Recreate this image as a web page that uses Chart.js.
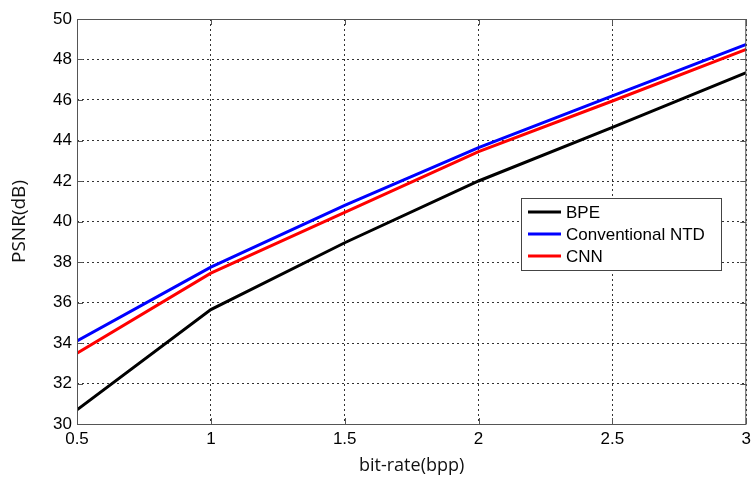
<!DOCTYPE html>
<html>
<head>
<meta charset="utf-8">
<script src="https://cdn.jsdelivr.net/npm/chart.js@4/dist/chart.umd.min.js"></script>
<style>
  html, body { margin: 0; padding: 0; background: #fff; }
  #wrap { width: 756px; height: 477px; }
</style>
</head>
<body>
<div id="wrap"><canvas id="chartPsnr"></canvas></div>
<script>
const bitRates = [0.5, 1, 1.5, 2, 2.5, 3];
const bpe = [30.7, 35.65, 38.95, 42.0, 44.65, 47.35];
const conventionalNtd = [34.1, 37.75, 40.8, 43.65, 46.2, 48.75];
const cnn = [33.5, 37.45, 40.45, 43.45, 45.95, 48.5];
const seriesNames = ['BPE', 'Conventional NTD', 'CNN'];

function toPoints(values) {
  return bitRates.map(function(x, i) { return { x: x, y: values[i] }; });
}

// frame, inward ticks and the boxed legend (matlab look)
const matlabFrame = {
  id: 'matlabFrame',
  afterDraw: function(chart) {
    const ctx = chart.ctx;
    const a = chart.chartArea;
    const xs = chart.scales.x, ys = chart.scales.y;
    ctx.save();
    ctx.strokeStyle = '#555';
    ctx.lineWidth = 1;
    ctx.strokeRect(a.left + 0.5, a.top + 0.5, a.right - a.left - 1, a.bottom - a.top);
    ctx.beginPath();
    xs.ticks.forEach(function(t) {
      const px = Math.round(xs.getPixelForValue(t.value)) + 0.5;
      ctx.moveTo(px, a.bottom); ctx.lineTo(px, a.bottom - 6);
      ctx.moveTo(px, a.top); ctx.lineTo(px, a.top + 6);
    });
    ys.ticks.forEach(function(t) {
      const py = Math.round(ys.getPixelForValue(t.value)) + 0.5;
      ctx.moveTo(a.left, py); ctx.lineTo(a.left + 6, py);
      ctx.moveTo(a.right, py); ctx.lineTo(a.right - 6, py);
    });
    ctx.stroke();

    // legend box
    const bx = 521.5, by = 198.5, bw = 200, bh = 72;
    ctx.fillStyle = '#fff';
    ctx.fillRect(bx, by, bw, bh);
    ctx.strokeStyle = '#444';
    ctx.strokeRect(bx, by, bw, bh);
    ctx.font = '17px "Liberation Sans", Arial, sans-serif';
    ctx.textBaseline = 'middle';
    chart.data.datasets.forEach(function(ds, i) {
      const y = 212 + i * 22;
      ctx.strokeStyle = ds.borderColor;
      ctx.lineWidth = 3;
      ctx.beginPath();
      ctx.moveTo(528, y); ctx.lineTo(561, y);
      ctx.stroke();
      ctx.fillStyle = '#000';
      ctx.fillText(ds.label, 566, y + 1);
    });
    ctx.restore();
  }
};

const gridStyle = {
  color: '#333',
  lineWidth: 1,
  drawTicks: false
};

new Chart(document.getElementById('chartPsnr'), {
  type: 'line',
  data: {
    datasets: [
      { label: seriesNames[0], data: toPoints(bpe), borderColor: '#000000', borderWidth: 3 },
      { label: seriesNames[1], data: toPoints(conventionalNtd), borderColor: '#0000ff', borderWidth: 3 },
      { label: seriesNames[2], data: toPoints(cnn), borderColor: '#ff0000', borderWidth: 3 }
    ]
  },
  options: {
    responsive: true,
    maintainAspectRatio: false,
    animation: false,
    layout: { padding: { top: 19, right: 6, left: 0, bottom: 0 } },
    elements: { point: { radius: 0 }, line: { tension: 0 } },
    plugins: { legend: { display: false }, tooltip: { enabled: false } },
    scales: {
      x: {
        type: 'linear',
        min: 0.5,
        max: 3,
        grid: gridStyle,
        border: { display: false, dash: [2, 3] },
        ticks: {
          stepSize: 0.5,
          padding: 5,
          color: '#000',
          font: { family: '"Liberation Sans", Arial, sans-serif', size: 17 },
          maxRotation: 0,
          callback: function(v) { return String(v); }
        },
        title: {
          display: true,
          text: 'bit-rate(bpp)',
          color: '#111',
          font: { family: '"Open Sans", sans-serif', size: 18 },
          padding: { top: 0, bottom: 0 }
        },
        afterFit: function(scale) { scale.height = 53; }
      },
      y: {
        min: 30,
        max: 50,
        grid: gridStyle,
        border: { display: false, dash: [2, 3] },
        ticks: {
          stepSize: 2,
          padding: 5,
          color: '#000',
          font: { family: '"Liberation Sans", Arial, sans-serif', size: 17 }
        },
        title: {
          display: true,
          text: 'PSNR(dB)',
          color: '#111',
          font: { family: '"Open Sans", sans-serif', size: 19 },
          padding: { top: 8, bottom: 0 }
        },
        afterFit: function(scale) { scale.width = 77; }
      }
    }
  },
  plugins: [matlabFrame]
});
</script>
</body>
</html>
